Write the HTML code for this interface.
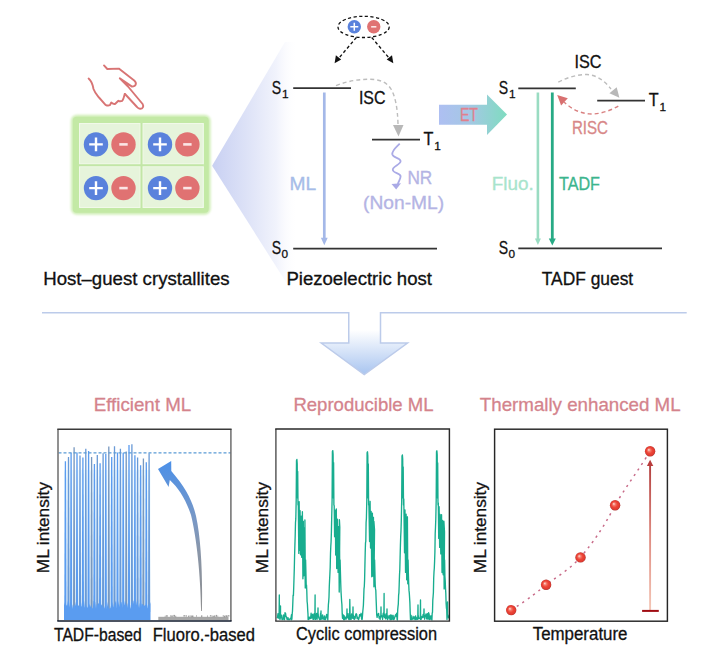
<!DOCTYPE html>
<html><head><meta charset="utf-8"><title>ML figure</title>
<style>
html,body{margin:0;padding:0;background:#fff;overflow:hidden;}
svg{display:block;}
text{font-family:"Liberation Sans", Arial, sans-serif;stroke-width:0.3px;}
</style></head>
<body>
<svg width="720" height="660" viewBox="0 0 720 660">
<rect width="720" height="660" fill="#fff"/>
<defs>
<linearGradient id="fan" x1="212" y1="0" x2="298" y2="0" gradientUnits="userSpaceOnUse">
 <stop offset="0" stop-color="#c8d0f2"/>
 <stop offset="0.4" stop-color="#dde2f7"/>
 <stop offset="0.75" stop-color="#f1f3fc"/>
 <stop offset="1" stop-color="#ffffff" stop-opacity="0"/>
</linearGradient>
<linearGradient id="et" x1="439" y1="0" x2="507" y2="0" gradientUnits="userSpaceOnUse">
 <stop offset="0" stop-color="#aebff2"/>
 <stop offset="0.45" stop-color="#a4c8e4"/>
 <stop offset="1" stop-color="#7fdcc0"/>
</linearGradient>
<linearGradient id="darr" x1="0" y1="330" x2="0" y2="374" gradientUnits="userSpaceOnUse">
 <stop offset="0" stop-color="#ffffff"/>
 <stop offset="1" stop-color="#a9c5f0"/>
</linearGradient>
<linearGradient id="curv" x1="0" y1="612" x2="0" y2="462" gradientUnits="userSpaceOnUse">
 <stop offset="0" stop-color="#8e8e8e"/>
 <stop offset="0.4" stop-color="#8a96a8"/>
 <stop offset="0.6" stop-color="#7a98c4"/>
 <stop offset="1" stop-color="#4c90e8"/>
</linearGradient>
<linearGradient id="tarr" x1="0" y1="610" x2="0" y2="460" gradientUnits="userSpaceOnUse">
 <stop offset="0" stop-color="#f4c6b6"/>
 <stop offset="0.5" stop-color="#de8a80"/>
 <stop offset="1" stop-color="#b03a3a"/>
</linearGradient>
<radialGradient id="ball" cx="0.5" cy="0.5" r="0.5" fx="0.36" fy="0.36">
 <stop offset="0" stop-color="#ffe4dc"/>
 <stop offset="0.28" stop-color="#f47a6c"/>
 <stop offset="0.55" stop-color="#ee4638"/>
 <stop offset="0.88" stop-color="#de3a30"/>
 <stop offset="1" stop-color="#a8302c"/>
</radialGradient>
<filter id="glow" x="-10%" y="-10%" width="120%" height="120%"><feGaussianBlur stdDeviation="1.2"/></filter>
<filter id="bl" x="-5%" y="-5%" width="110%" height="110%"><feGaussianBlur stdDeviation="0.35"/></filter>
<marker id="ah" viewBox="0 0 10 10" refX="9" refY="5" markerWidth="5" markerHeight="5" orient="auto"><path d="M0,0 L10,5 L0,10 z" fill="#000"/></marker>
</defs>
<polygon points="212.1,165.7 285,42 300,42 300,292 291,290" fill="url(#fan)"/>
<g fill="none" stroke="#d87474" stroke-width="1.9" stroke-linecap="round" stroke-linejoin="round"><path d="M104,65.4 L107.3,69 L118.8,68.6 L134.2,80.5 C137.2,83 136,86.6 132,86.6 L119.8,78.3 L128,86.5 L142.6,104 C144,106.5 142.8,109 140,108.8 C138.5,108.7 137.8,108 137,107 L125,94"/><path d="M88.6,78.5 C91,80.5 92.5,83 93.5,89 C95,93 97,95 99,97.5 L105.5,104.8 C107,105.6 108.5,106 110,105 L111.3,102.5 C113,104 114,104.2 115.3,103.8 L118.4,100.8 C119.5,101.3 121,101.3 122.2,100.8 C123.5,99.5 124,97 124.7,94"/></g>
<rect x="70.8" y="114.8" width="139.9" height="100" rx="6" fill="#d2efba" filter="url(#glow)"/>
<rect x="72.8" y="116.8" width="135.9" height="95.9" rx="4" fill="#c3e9a5"/>
<rect x="79" y="123" width="124.8" height="85" fill="#e7f5dc"/>
<rect x="79.6" y="123.6" width="60.499999999999986" height="40.3" fill="#e6f4db" stroke="#f2faec" stroke-width="0.9"/>
<rect x="79.6" y="166.7" width="60.499999999999986" height="40.7" fill="#e6f4db" stroke="#f2faec" stroke-width="0.9"/>
<rect x="142.9" y="123.6" width="60.3" height="40.3" fill="#e6f4db" stroke="#f2faec" stroke-width="0.9"/>
<rect x="142.9" y="166.7" width="60.3" height="40.7" fill="#e6f4db" stroke="#f2faec" stroke-width="0.9"/>
<line x1="79" y1="165.3" x2="203.8" y2="165.3" stroke="#c2e6a6" stroke-width="2"/>
<line x1="141.5" y1="123" x2="141.5" y2="208" stroke="#c2e6a6" stroke-width="2"/>
<circle cx="96" cy="144.4" r="12.2" fill="#5a82dc"/><path d="M89.2,144.4 H102.8 M96,137.6 V151.20000000000002" stroke="#fff" stroke-width="2.4"/>
<circle cx="123.5" cy="144.4" r="12.2" fill="#e07272"/><path d="M119.3,144.4 H127.7" stroke="#fbe6e6" stroke-width="2.6"/>
<circle cx="160" cy="144.4" r="12.2" fill="#5a82dc"/><path d="M153.2,144.4 H166.8 M160,137.6 V151.20000000000002" stroke="#fff" stroke-width="2.4"/>
<circle cx="187.4" cy="144.4" r="12.2" fill="#e07272"/><path d="M183.20000000000002,144.4 H191.6" stroke="#fbe6e6" stroke-width="2.6"/>
<circle cx="96" cy="188.1" r="12.2" fill="#5a82dc"/><path d="M89.2,188.1 H102.8 M96,181.29999999999998 V194.9" stroke="#fff" stroke-width="2.4"/>
<circle cx="123.5" cy="188.1" r="12.2" fill="#e07272"/><path d="M119.3,188.1 H127.7" stroke="#fbe6e6" stroke-width="2.6"/>
<circle cx="160" cy="188.1" r="12.2" fill="#5a82dc"/><path d="M153.2,188.1 H166.8 M160,181.29999999999998 V194.9" stroke="#fff" stroke-width="2.4"/>
<circle cx="187.4" cy="188.1" r="12.2" fill="#e07272"/><path d="M183.20000000000002,188.1 H191.6" stroke="#fbe6e6" stroke-width="2.6"/>
<g stroke="#333" stroke-width="1.8"><line x1="293.2" y1="88.2" x2="351" y2="88.2"/><line x1="372" y1="139.6" x2="420" y2="139.6"/><line x1="293.2" y1="248.7" x2="437" y2="248.7"/></g>
<line x1="324.3" y1="92.5" x2="324.3" y2="240" stroke="#a4b8e8" stroke-width="2.7"/>
<path d="M320.9,237.8 L327.7,237.8 L324.3,245.3 z" fill="#a4b8e8"/>
<path d="M336,85.6 C348,81 358,79.3 369.4,79.3 C378,79.3 386,81 391,89 C395.5,97 397.5,108 398,124" fill="none" stroke="#bdbdbd" stroke-width="1.4" stroke-dasharray="4,3"/>
<path d="M393,125 L403.5,125 L398.5,136.5 z" fill="#b8b8b8"/>
<path d="M399.7,143.6 C396,147.5 391.8,150.5 392.3,154.4 C393,158 400.8,157.8 400.6,161.3 C400.3,165 392.3,166.3 392.8,170 C393.3,173.5 400.9,172.8 400.6,176.5 C400.4,179 398.8,181 397.8,184" fill="none" stroke="#aaaae6" stroke-width="1.8"/>
<path d="M391.5,184 L401,183.3 L396.2,189.6 z" fill="#aaaae6"/>
<ellipse cx="363.6" cy="26.9" rx="25.6" ry="10.6" fill="none" stroke="#111" stroke-width="1.3" stroke-dasharray="3.2,2.4"/>
<circle cx="354.3" cy="26.8" r="6.7" fill="#5a82dc"/><path d="M350.3,26.8 H358.3 M354.3,22.8 V30.8" stroke="#fff" stroke-width="1.5"/>
<circle cx="373.75" cy="26.8" r="6.7" fill="#e07272"/><path d="M371.15,26.8 H376.35" stroke="#fbe6e6" stroke-width="1.6"/>
<g stroke="#111" stroke-width="1.3" stroke-dasharray="3.2,2.4"><line x1="356.4" y1="37.5" x2="338.5" y2="58.5"/><line x1="371.7" y1="37.5" x2="389.5" y2="58.5"/></g>
<path d="M334.6,63.3 L335.9,55.2 L341.2,59.6 z" fill="#111"/>
<path d="M393.3,63.3 L392.0,55.2 L386.7,59.6 z" fill="#111"/>
<text x="271.7" y="94.1" font-size="18.6" fill="#111" stroke="#111" text-anchor="start" textLength="9.4" lengthAdjust="spacingAndGlyphs" >S</text>
<text x="281.9" y="97.7" font-size="11.8" fill="#111" stroke="#111" text-anchor="start" >1</text>
<text x="358.9" y="104" font-size="17.5" fill="#111" stroke="#111" text-anchor="start" textLength="26.6" lengthAdjust="spacingAndGlyphs" >ISC</text>
<text x="423.4" y="144.6" font-size="17.5" fill="#111" stroke="#111" text-anchor="start" textLength="9.9" lengthAdjust="spacingAndGlyphs" >T</text>
<text x="434.2" y="149.9" font-size="11.8" fill="#111" stroke="#111" text-anchor="start" >1</text>
<text x="271.7" y="254.1" font-size="18.6" fill="#111" stroke="#111" text-anchor="start" textLength="9.4" lengthAdjust="spacingAndGlyphs" >S</text>
<text x="281.5" y="257.8" font-size="11.8" fill="#111" stroke="#111" text-anchor="start" >0</text>
<text x="289.4" y="190" font-size="17.5" fill="#a6bce8" stroke="#a6bce8" text-anchor="start" textLength="26.7" lengthAdjust="spacingAndGlyphs" >ML</text>
<text x="407.4" y="184" font-size="17.5" fill="#b4b4e4" stroke="#b4b4e4" text-anchor="start" textLength="24.9" lengthAdjust="spacingAndGlyphs" >NR</text>
<text x="363.1" y="208.5" font-size="17.5" fill="#b4b4e4" stroke="#b4b4e4" text-anchor="start" textLength="81.1" lengthAdjust="spacingAndGlyphs" >(Non-ML)</text>
<path d="M439,104.7 H487 V94.6 L507,114.4 L487,134.9 V124.7 H439 z" fill="url(#et)"/>
<text x="459.9" y="121.4" font-size="17.5" fill="#e0808e" stroke="#e0808e" text-anchor="start" textLength="18.1" lengthAdjust="spacingAndGlyphs" >ET</text>
<g stroke="#333" stroke-width="1.8"><line x1="518.3" y1="88.3" x2="575.8" y2="88.3"/><line x1="597.2" y1="100.7" x2="645" y2="100.7"/><line x1="518.3" y1="248.4" x2="662" y2="248.4"/></g>
<line x1="537.9" y1="92.5" x2="537.9" y2="239" stroke="#9adcc2" stroke-width="2.6"/>
<path d="M534.9,238.6 L540.9,238.6 L537.9,245 z" fill="#9adcc2"/>
<line x1="552.3" y1="92.5" x2="552.3" y2="239" stroke="#27aa85" stroke-width="2.8"/>
<path d="M548.8,238.6 L555.8,238.6 L552.3,245.5 z" fill="#27aa85"/>
<path d="M558.3,82.2 C568,77 578,74.5 587,74.5 C596,75 604,80 611,89" fill="none" stroke="#bdbdbd" stroke-width="1.4" stroke-dasharray="4,3"/>
<path d="M609.4,93.3 L616.7,87.2 L619.4,97.8 z" fill="#b8b8b8"/>
<path d="M618.3,106.1 C609,111.5 598,114.5 589,113.9 C579,113 571,108.5 564,102" fill="none" stroke="#d98080" stroke-width="1.4" stroke-dasharray="4,3"/>
<path d="M557.2,95 L567.8,98.3 L561.1,105.6 z" fill="#d87070"/>
<text x="498.7" y="94.0" font-size="18.6" fill="#111" stroke="#111" text-anchor="start" textLength="9.4" lengthAdjust="spacingAndGlyphs" >S</text>
<text x="508.9" y="98.2" font-size="11.8" fill="#111" stroke="#111" text-anchor="start" >1</text>
<text x="574.5" y="68" font-size="17.5" fill="#111" stroke="#111" text-anchor="start" textLength="27.0" lengthAdjust="spacingAndGlyphs" >ISC</text>
<text x="648.8" y="105.6" font-size="17.5" fill="#111" stroke="#111" text-anchor="start" textLength="9.9" lengthAdjust="spacingAndGlyphs" >T</text>
<text x="659.5" y="110.9" font-size="11.8" fill="#111" stroke="#111" text-anchor="start" >1</text>
<text x="498.7" y="254.1" font-size="18.6" fill="#111" stroke="#111" text-anchor="start" textLength="9.4" lengthAdjust="spacingAndGlyphs" >S</text>
<text x="508.5" y="257.8" font-size="11.8" fill="#111" stroke="#111" text-anchor="start" >0</text>
<text x="571.9" y="133.7" font-size="17.5" fill="#d88888" stroke="#d88888" text-anchor="start" textLength="36.1" lengthAdjust="spacingAndGlyphs" >RISC</text>
<text x="491.7" y="190.3" font-size="17.5" fill="#a8e4cc" stroke="#a8e4cc" text-anchor="start" textLength="42.0" lengthAdjust="spacingAndGlyphs" >Fluo.</text>
<text x="559" y="190.3" font-size="17.5" fill="#3cb58e" stroke="#3cb58e" text-anchor="start" textLength="41.0" lengthAdjust="spacingAndGlyphs" >TADF</text>
<text x="43.2" y="284.7" font-size="17.5" fill="#111" stroke="#111" text-anchor="start" textLength="186.4" lengthAdjust="spacingAndGlyphs" >Host–guest crystallites</text>
<text x="286.4" y="285" font-size="17.5" fill="#111" stroke="#111" text-anchor="start" textLength="145.6" lengthAdjust="spacingAndGlyphs" >Piezoelectric host</text>
<text x="541.8" y="285.1" font-size="17.5" fill="#111" stroke="#111" text-anchor="start" textLength="91.4" lengthAdjust="spacingAndGlyphs" >TADF guest</text>
<path d="M348.75,313.6 V343 H321.25 L364.25,374.5 L407.5,343 H380.5 V313.6 z" fill="url(#darr)"/>
<path d="M42,312.8 H348.75 V343 H321.25 L364.25,374.5 L407.5,343 H380.5 V312.8 H686.7" fill="none" stroke="#bccbea" stroke-width="1.5"/>
<text x="93.7" y="411.4" font-size="19" fill="#d4838c" stroke="#d4838c" text-anchor="start" textLength="97.5" lengthAdjust="spacingAndGlyphs" >Efficient ML</text>
<text x="293.4" y="411.4" font-size="19" fill="#d4838c" stroke="#d4838c" text-anchor="start" textLength="140.2" lengthAdjust="spacingAndGlyphs" >Reproducible ML</text>
<text x="479.8" y="410.9" font-size="19" fill="#d4838c" stroke="#d4838c" text-anchor="start" textLength="200.8" lengthAdjust="spacingAndGlyphs" >Thermally enhanced ML</text>
<rect x="64" y="470" width="86.5" height="142" fill="#eefaff"/>
<g><path d="M64.30,612 L64.45,560 L64.75,461.2 L66.05,461.2 L66.35,560 L66.50,612 z" fill="#5b9cf0"/><path d="M67.40,612 L67.55,560 L67.85,457.0 L69.15,457.0 L69.45,560 L69.60,612 z" fill="#6a9ad6"/><path d="M70.00,612 L70.15,560 L70.45,452.8 L71.75,452.8 L72.05,560 L72.20,612 z" fill="#5b9cf0"/><path d="M73.00,612 L73.15,560 L73.45,447.3 L74.75,447.3 L75.05,560 L75.20,612 z" fill="#7898c0"/><path d="M75.90,612 L76.05,560 L76.35,452.5 L77.65,452.5 L77.95,560 L78.10,612 z" fill="#5b9cf0"/><path d="M78.90,612 L79.05,560 L79.35,455.6 L80.65,455.6 L80.95,560 L81.10,612 z" fill="#6a9ad6"/><path d="M81.80,612 L81.95,560 L82.25,457.4 L83.55,457.4 L83.85,560 L84.00,612 z" fill="#5b9cf0"/><path d="M84.70,612 L84.85,560 L85.15,448.7 L86.45,448.7 L86.75,560 L86.90,612 z" fill="#6a9ad6"/><path d="M87.50,612 L87.65,560 L87.95,451.1 L89.25,451.1 L89.55,560 L89.70,612 z" fill="#5b9cf0"/><path d="M90.50,612 L90.65,560 L90.95,457.0 L92.25,457.0 L92.55,560 L92.70,612 z" fill="#7898c0"/><path d="M93.30,612 L93.45,560 L93.75,464.0 L95.05,464.0 L95.35,560 L95.50,612 z" fill="#5b9cf0"/><path d="M96.20,612 L96.35,560 L96.65,455.0 L97.95,455.0 L98.25,560 L98.40,612 z" fill="#6a9ad6"/><path d="M99.00,612 L99.15,560 L99.45,463.3 L100.75,463.3 L101.05,560 L101.20,612 z" fill="#5b9cf0"/><path d="M102.00,612 L102.15,560 L102.45,453.2 L103.75,453.2 L104.05,560 L104.20,612 z" fill="#6a9ad6"/><path d="M104.70,612 L104.85,560 L105.15,453.9 L106.45,453.9 L106.75,560 L106.90,612 z" fill="#5b9cf0"/><path d="M107.70,612 L107.85,560 L108.15,446.6 L109.45,446.6 L109.75,560 L109.90,612 z" fill="#7898c0"/><path d="M110.60,612 L110.75,560 L111.05,457.0 L112.35,457.0 L112.65,560 L112.80,612 z" fill="#5b9cf0"/><path d="M113.40,612 L113.55,560 L113.85,446.3 L115.15,446.3 L115.45,560 L115.60,612 z" fill="#6a9ad6"/><path d="M116.40,612 L116.55,560 L116.85,452.5 L118.15,452.5 L118.45,560 L118.60,612 z" fill="#5b9cf0"/><path d="M119.30,612 L119.45,560 L119.75,448.7 L121.05,448.7 L121.35,560 L121.50,612 z" fill="#6a9ad6"/><path d="M122.10,612 L122.25,560 L122.55,452.8 L123.85,452.8 L124.15,560 L124.30,612 z" fill="#5b9cf0"/><path d="M125.10,612 L125.25,560 L125.55,451.5 L126.85,451.5 L127.15,560 L127.30,612 z" fill="#7898c0"/><path d="M127.90,612 L128.05,560 L128.35,444.9 L129.65,444.9 L129.95,560 L130.10,612 z" fill="#5b9cf0"/><path d="M130.80,612 L130.95,560 L131.25,444.2 L132.55,444.2 L132.85,560 L133.00,612 z" fill="#6a9ad6"/><path d="M133.80,612 L133.95,560 L134.25,455.3 L135.55,455.3 L135.85,560 L136.00,612 z" fill="#5b9cf0"/><path d="M136.50,612 L136.65,560 L136.95,457.4 L138.25,457.4 L138.55,560 L138.70,612 z" fill="#6a9ad6"/><path d="M139.50,612 L139.65,560 L139.95,465.3 L141.25,465.3 L141.55,560 L141.70,612 z" fill="#5b9cf0"/><path d="M142.30,612 L142.45,560 L142.75,458.6 L144.05,458.6 L144.35,560 L144.50,612 z" fill="#7898c0"/><path d="M145.20,612 L145.35,560 L145.65,462.2 L146.95,462.2 L147.25,560 L147.40,612 z" fill="#5b9cf0"/><path d="M148.00,612 L148.15,560 L148.45,453.2 L149.75,453.2 L150.05,560 L150.20,612 z" fill="#6a9ad6"/></g>
<polygon points="64.0,620.0 64.0,605.0 64.0,602.1 64.8,604.9 65.6,603.3 66.4,605.4 67.2,605.6 68.0,600.6 68.8,600.1 69.6,607.5 70.4,602.3 71.2,602.1 72.0,609.0 72.8,604.2 73.6,607.5 74.4,604.3 75.2,605.8 76.0,601.4 76.8,605.7 77.6,607.8 78.4,604.7 79.2,606.7 80.0,606.0 80.8,600.6 81.6,606.8 82.4,605.3 83.2,602.7 84.0,600.3 84.8,607.8 85.6,604.3 86.4,606.5 87.2,607.9 88.0,606.4 88.8,608.3 89.6,603.6 90.4,607.2 91.2,604.0 92.0,608.4 92.8,607.9 93.6,600.9 94.4,601.2 95.2,602.0 96.0,608.7 96.8,603.9 97.6,605.6 98.4,602.7 99.2,604.6 100.0,603.5 100.8,603.2 101.6,605.3 102.4,605.3 103.2,608.1 104.0,606.1 104.8,608.4 105.6,607.7 106.4,608.9 107.2,606.0 108.0,601.5 108.8,607.7 109.6,608.7 110.4,608.1 111.2,605.1 112.0,606.4 112.8,601.9 113.6,607.5 114.4,605.2 115.2,602.6 116.0,600.6 116.8,607.7 117.6,608.9 118.4,600.8 119.2,607.2 120.0,603.7 120.8,601.4 121.6,602.6 122.4,606.9 123.2,607.9 124.0,600.4 124.8,605.5 125.6,600.4 126.4,606.5 127.2,603.0 128.0,607.9 128.8,608.8 129.6,604.5 130.4,609.0 131.2,602.8 132.0,600.7 132.8,605.4 133.6,600.3 134.4,601.8 135.2,603.7 136.0,605.5 136.8,601.4 137.6,600.4 138.4,607.8 139.2,602.8 140.0,608.6 140.8,608.1 141.6,603.4 142.4,604.1 143.2,604.7 144.0,605.8 144.8,605.4 145.6,605.0 146.4,605.6 147.2,608.5 148.0,604.6 148.8,603.9 149.6,606.5 150.4,602.1 150.5,603.0 150.5,620.0" fill="#5a9cf0"/>
<line x1="58.5" y1="452.9" x2="231" y2="452.9" stroke="#5b9bd5" stroke-width="1.1" stroke-dasharray="3,2"/>
<rect x="158.3" y="616.8" width="70.2" height="3.4" fill="#a8a8a8"/>
<g><rect x="164.8" y="615.7" width="0.6" height="1.7" fill="#9c9c9c"/><rect x="165.8" y="615.3" width="2.0" height="1.4" fill="#9c9c9c"/><rect x="170.1" y="615.1" width="0.6" height="1.9" fill="#9c9c9c"/><rect x="171.1" y="615.5" width="1.8" height="1.3" fill="#9c9c9c"/><rect x="173.4" y="614.9" width="1.6" height="1.9" fill="#9c9c9c"/><rect x="175.3" y="615.7" width="0.9" height="1.9" fill="#9c9c9c"/><rect x="183.4" y="615.2" width="2.0" height="1.3" fill="#9c9c9c"/><rect x="185.9" y="615.1" width="0.8" height="1.7" fill="#9c9c9c"/><rect x="188.1" y="615.6" width="1.1" height="1.6" fill="#9c9c9c"/><rect x="189.6" y="615.5" width="1.1" height="1.2" fill="#9c9c9c"/><rect x="191.2" y="615.5" width="2.2" height="1.9" fill="#9c9c9c"/><rect x="196.3" y="615.0" width="0.6" height="2.0" fill="#9c9c9c"/><rect x="201.1" y="615.3" width="1.2" height="1.8" fill="#9c9c9c"/><rect x="207.2" y="615.4" width="0.7" height="1.9" fill="#9c9c9c"/><rect x="209.9" y="615.2" width="1.5" height="1.3" fill="#9c9c9c"/><rect x="211.8" y="615.5" width="0.7" height="2.0" fill="#9c9c9c"/><rect x="212.9" y="615.7" width="0.9" height="1.6" fill="#9c9c9c"/><rect x="214.1" y="615.4" width="1.2" height="1.9" fill="#9c9c9c"/><rect x="215.8" y="614.9" width="1.3" height="1.9" fill="#9c9c9c"/><rect x="217.5" y="615.6" width="0.7" height="1.3" fill="#9c9c9c"/><rect x="222.8" y="615.0" width="0.8" height="1.9" fill="#9c9c9c"/><rect x="223.9" y="615.7" width="1.1" height="1.9" fill="#9c9c9c"/><rect x="225.4" y="615.3" width="2.2" height="1.8" fill="#9c9c9c"/><rect x="228.0" y="615.2" width="1.4" height="1.3" fill="#9c9c9c"/></g>
<path d="M201.9,611 C202.7,575 201.2,540 196,516 C192.5,501 186,488 171.3,471 L171.2,461.1 L158,469.1 L168.6,487.1 L169.8,480 C179,488.5 186,500 191,515 C196.5,537 200.7,575 201.1,611 Z" fill="url(#curv)"/>
<g stroke-width="1.5" fill="none"><path d="M58,621 V429.3 M230.9,429.3 V621" stroke="#6e6e6e"/><path d="M57.3,429.3 H231.6" stroke="#3a3a3a"/><path d="M57.3,621 H231.6" stroke="#101a2c"/></g>
<polyline points="277.00,618.2 277.50,617.4 278.00,613.6 278.50,618.1 279.00,617.8 279.10,616.6 279.30,595.0 279.50,617.2 279.60,615.6 280.00,619.4 280.30,616.6 280.50,606.0 280.50,617.8 280.80,615.6 281.00,616.8 281.50,615.2 282.00,619.5 282.50,619.0 283.00,619.5 283.50,615.0 284.00,616.2 284.50,619.6 285.00,612.8 285.50,613.1 286.00,616.6 286.50,616.9 287.00,619.4 287.50,619.6 288.00,617.6 288.50,619.6 289.00,619.3 289.50,619.2 290.00,619.6 290.50,618.1 291.00,618.2 291.50,614.6 291.60,619.8 291.90,619.0 292.20,614.0 292.50,611.0 292.80,603.4 293.10,595.3 293.40,595.6 293.70,588.0 294.00,578.4 294.30,568.4 294.60,555.4 294.90,544.9 295.20,535.5 295.50,522.8 295.80,518.9 296.20,500.0 296.50,460.5 296.90,459.5 297.20,463.5 297.50,498.0 297.70,471.5 298.00,505.0 298.30,501.6 298.80,553.4 299.15,501.7 299.69,550.4 300.07,510.6 300.53,554.7 301.27,516.2 301.71,557.3 302.38,511.7 302.91,578.8 303.31,521.3 303.83,575.8 304.57,527.6 305.27,588.0 304.90,519.9 305.30,580.0 305.60,560.0 305.90,571.8 306.20,585.0 306.50,584.9 306.80,591.3 307.10,601.5 307.40,604.0 307.70,609.9 308.00,614.2 308.10,619.5 308.60,617.2 309.10,619.2 309.60,617.1 310.10,618.6 310.60,618.2 311.10,613.2 311.60,618.0 312.10,617.3 312.60,614.3 313.10,619.4 313.60,619.4 314.10,613.8 314.60,614.9 314.90,616.6 315.10,595.0 315.10,619.2 315.40,615.6 315.60,619.3 316.10,615.8 316.60,613.4 317.10,619.3 317.60,613.3 317.80,616.6 318.00,608.0 318.10,614.2 318.30,615.6 318.60,617.1 319.10,618.4 319.60,619.5 320.10,619.6 320.60,613.1 320.80,616.6 321.00,611.0 321.10,619.2 321.30,615.6 321.60,616.1 322.10,619.1 322.60,614.9 323.10,617.1 323.60,619.0 324.10,619.4 324.60,616.0 325.10,619.6 325.60,619.2 326.10,617.4 326.60,614.5 327.10,617.0 327.50,617.4 327.80,619.9 328.10,611.1 328.40,604.5 328.70,601.5 329.00,597.0 329.30,586.2 329.60,579.8 329.90,573.7 330.20,567.1 330.50,553.5 330.80,546.3 331.10,541.5 331.40,531.9 331.70,517.8 332.10,500.0 332.40,451.6 332.80,450.6 333.10,454.6 333.40,498.0 333.60,462.6 333.90,505.0 334.20,505.7 334.61,536.7 335.32,510.3 335.68,555.0 336.32,508.9 336.70,568.6 337.41,519.2 338.08,572.4 338.70,526.6 339.22,592.1 339.80,527.1 339.40,519.7 339.80,580.0 340.10,560.0 340.40,571.6 340.70,582.2 341.00,591.1 341.30,596.3 341.60,601.2 341.90,604.5 342.20,613.4 342.50,618.2 342.60,618.2 343.10,614.7 343.60,619.6 344.10,615.7 344.60,619.6 345.10,617.1 345.60,618.0 346.10,619.2 346.60,616.2 346.80,616.6 347.00,609.0 347.10,617.9 347.30,615.6 347.60,617.0 348.10,613.7 348.60,619.1 349.10,619.6 349.60,616.6 349.60,619.0 349.80,599.5 350.10,615.6 350.10,616.4 350.60,619.3 351.10,619.4 351.60,613.9 352.10,616.6 352.60,618.2 352.80,616.6 353.00,607.0 353.10,614.0 353.30,615.6 353.60,618.9 354.10,616.5 354.60,619.3 355.10,618.3 355.60,615.1 356.10,613.7 356.60,614.2 357.10,618.6 357.60,617.2 358.10,618.9 358.60,619.5 359.10,617.9 359.60,614.7 360.10,614.6 360.60,616.1 361.10,613.3 361.60,619.1 362.10,619.4 362.20,619.1 362.50,615.4 362.80,611.2 363.10,608.5 363.40,605.1 363.70,597.5 364.00,588.8 364.30,586.5 364.60,579.8 364.90,565.9 365.20,553.0 365.50,542.9 365.80,541.3 366.10,522.6 366.40,518.4 366.80,500.0 367.10,452.8 367.50,451.8 367.80,455.8 368.10,498.0 368.30,463.8 368.60,505.0 368.90,504.0 369.57,541.5 370.10,501.3 370.54,548.1 371.15,511.5 371.76,576.8 372.38,513.2 372.80,576.1 373.44,517.3 373.93,586.7 374.52,529.9 373.90,521.4 374.30,580.0 374.60,560.0 374.90,571.7 375.20,584.5 375.50,588.9 375.80,590.3 376.10,599.0 376.40,606.4 376.70,614.8 377.00,616.6 377.10,617.3 377.60,614.2 378.10,615.2 378.60,613.4 379.10,618.1 379.60,616.6 380.10,619.3 380.60,616.0 380.80,616.6 381.00,607.0 381.10,614.9 381.30,615.6 381.60,616.7 382.10,616.0 382.60,619.3 383.10,613.9 383.60,612.9 383.90,616.6 384.10,593.5 384.10,612.9 384.40,615.6 384.60,617.6 385.10,615.2 385.60,618.9 386.10,613.8 386.60,614.5 386.80,616.6 387.00,609.0 387.10,618.7 387.30,615.6 387.60,619.6 388.10,618.2 388.60,617.5 389.10,615.5 389.60,617.9 390.10,619.6 390.60,615.0 391.10,619.6 391.60,615.1 392.10,619.4 392.60,618.8 393.10,615.3 393.60,619.5 394.10,619.4 394.60,617.7 395.10,615.9 395.60,614.7 396.10,616.3 396.60,613.3 397.10,619.5 397.40,619.9 397.70,609.9 398.00,606.6 398.30,604.1 398.60,595.4 398.90,592.9 399.20,584.5 399.50,575.2 399.80,569.8 400.10,557.8 400.40,545.7 400.70,536.4 401.00,530.6 401.30,520.3 401.70,500.0 402.00,456.0 402.40,455.0 402.70,459.0 403.00,498.0 403.20,467.0 403.50,505.0 403.80,498.9 404.54,552.8 404.97,509.9 405.56,572.4 406.12,514.2 406.69,579.7 407.07,521.4 407.80,583.8 407.40,516.8 407.80,580.0 408.10,560.0 408.40,574.5 408.70,583.6 409.00,590.4 409.30,593.1 409.60,597.9 409.90,602.9 410.20,612.4 410.50,619.6 410.60,619.5 411.10,615.3 411.60,619.6 412.10,619.3 412.60,619.2 413.10,616.3 413.60,618.9 414.10,618.7 414.60,616.9 415.10,619.5 415.60,615.9 416.10,619.5 416.60,617.8 417.10,619.2 417.60,619.3 417.80,616.6 418.00,605.0 418.10,617.6 418.30,615.6 418.60,618.3 419.10,618.6 419.60,618.4 420.10,617.6 420.30,616.6 420.50,600.0 420.60,619.4 420.80,615.6 421.10,619.3 421.60,616.8 422.10,616.7 422.60,617.6 423.10,614.5 423.60,617.0 423.80,616.6 424.00,609.0 424.10,614.5 424.30,615.6 424.60,619.2 425.10,615.8 425.60,615.0 426.10,613.9 426.60,618.9 427.10,618.9 427.60,613.6 428.10,619.3 428.60,612.6 429.10,614.1 429.60,619.5 430.10,619.2 430.60,615.9 431.10,619.1 431.60,615.6 431.90,619.9 432.20,613.2 432.50,612.2 432.80,600.1 433.10,596.6 433.40,592.5 433.70,578.2 434.00,572.0 434.30,568.2 434.60,561.3 434.90,552.3 435.20,533.8 435.50,527.2 435.80,518.8 436.20,500.0 436.50,451.8 436.90,450.8 437.20,454.8 437.50,498.0 437.70,462.8 438.00,505.0 438.30,503.0 438.73,538.4 439.09,506.7 439.67,547.4 440.10,514.5 440.82,553.9 441.55,514.7 442.03,572.5 442.55,520.4 443.18,574.8 443.72,526.7 444.14,588.9 444.50,531.8 443.90,521.2 444.30,580.0 444.60,560.0 444.90,576.0 445.20,580.3 445.50,588.0 445.80,593.3 446.10,603.2 446.40,607.8 446.70,609.6 447.00,619.6 447.10,615.7 447.30,616.6 447.50,602.0 447.60,615.4 447.80,615.6 448.10,615.0 448.60,618.4" fill="none" stroke="#18ad8f" stroke-width="1.35" stroke-linejoin="round"/>
<g stroke-width="1.45" fill="none"><path d="M275.9,621.1 V428.9" stroke="#555"/><path d="M275.2,428.9 H449.4 V621.1 H275.2" stroke="#2a2a2a"/></g>
<path d="M511.2,610.1 C530,598 540,590 546.1,584.7 C560,575 572,567 580.5,557.4 C595,540 605,525 615.1,505.2 C625,488 640,468 650.1,451.2" fill="none" stroke="#c86a88" stroke-width="1.5" stroke-dasharray="2.2,4.4"/>
<line x1="650.1" y1="610" x2="650.1" y2="464" stroke="url(#tarr)" stroke-width="1.9"/>
<path d="M646.9,466 L653.3,466 L650.1,459.8 z" fill="#b83c3c"/>
<line x1="642.1" y1="610.9" x2="658.8" y2="610.9" stroke="#a00c12" stroke-width="2"/>
<circle cx="511.2" cy="610.1" r="5.2" fill="url(#ball)"/>
<circle cx="546.1" cy="584.7" r="5.2" fill="url(#ball)"/>
<circle cx="580.5" cy="557.4" r="5.2" fill="url(#ball)"/>
<circle cx="615.1" cy="505.2" r="5.2" fill="url(#ball)"/>
<circle cx="650.1" cy="451.2" r="5.2" fill="url(#ball)"/>
<rect x="494.6" y="429.2" width="172.8" height="192" fill="none" stroke="#262626" stroke-width="1.45"/>
<text transform="translate(49.3,573.2) rotate(-90)" font-size="17" fill="#111" stroke="#111" textLength="91.2" lengthAdjust="spacingAndGlyphs">ML intensity</text>
<text transform="translate(268.2,573.2) rotate(-90)" font-size="17" fill="#111" stroke="#111" textLength="91.2" lengthAdjust="spacingAndGlyphs">ML intensity</text>
<text transform="translate(485.7,573.2) rotate(-90)" font-size="17" fill="#111" stroke="#111" textLength="91.2" lengthAdjust="spacingAndGlyphs">ML intensity</text>
<text x="54" y="640.5" font-size="17.5" fill="#111" stroke="#111" text-anchor="start" textLength="87.7" lengthAdjust="spacingAndGlyphs" >TADF-based</text>
<text x="152.7" y="640.6" font-size="17.5" fill="#111" stroke="#111" text-anchor="start" textLength="102.3" lengthAdjust="spacingAndGlyphs" >Fluoro.-based</text>
<text x="296" y="640" font-size="17.5" fill="#111" stroke="#111" text-anchor="start" textLength="141.0" lengthAdjust="spacingAndGlyphs" >Cyclic compression</text>
<text x="532.7" y="640" font-size="17.5" fill="#111" stroke="#111" text-anchor="start" textLength="94.8" lengthAdjust="spacingAndGlyphs" >Temperature</text>
</svg>
</body></html>
